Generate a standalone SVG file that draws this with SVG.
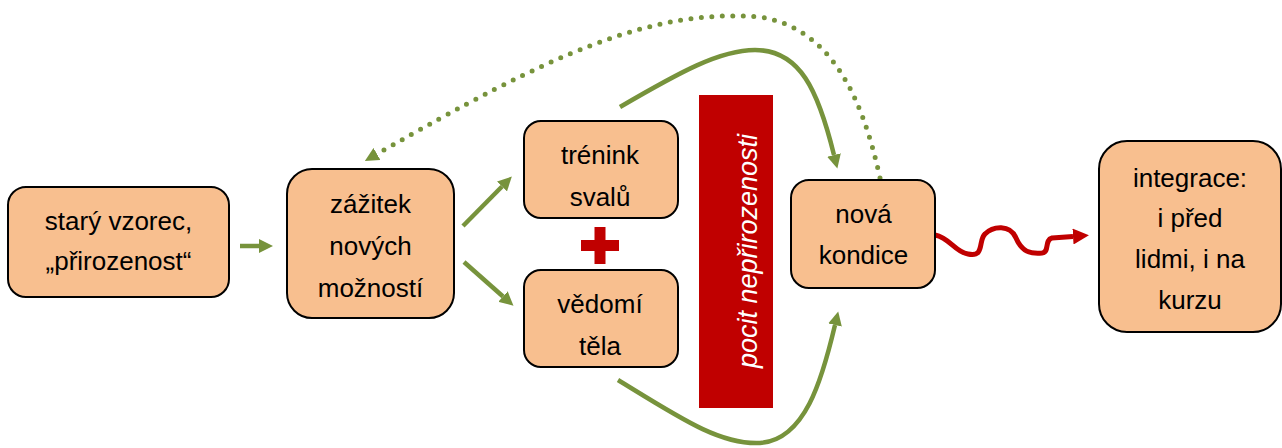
<svg xmlns="http://www.w3.org/2000/svg" width="1282" height="448" viewBox="0 0 1282 448">
  <style>
    .box { fill: #F8BF8F; stroke: #000; stroke-width: 2; }
    .lbl { font-family: "Liberation Sans", Arial, sans-serif; font-size: 26px; fill: #000; text-anchor: middle; }
    .g { fill: none; stroke: #77933C; stroke-width: 4.5; }
    .dot { fill: none; stroke: #77933C; stroke-width: 5; stroke-linecap: round; stroke-dasharray: 0 10.5; }
    .r { fill: none; stroke: #C00000; stroke-width: 5; stroke-linejoin: round; }
  </style>
  <defs>
    <marker id="ga" markerUnits="userSpaceOnUse" markerWidth="14" markerHeight="14" viewBox="0 0 14 14" refX="0" refY="7" orient="auto">
      <path d="M0,0 L14,7 L0,14 Z" fill="#77933C"/>
    </marker>
    <marker id="ra" markerUnits="userSpaceOnUse" markerWidth="16" markerHeight="16" viewBox="0 0 16 16" refX="0" refY="8" orient="auto">
      <path d="M0,0 L16,8 L0,16 Z" fill="#C00000"/>
    </marker>
  </defs>

  <rect id="bar" x="699" y="95" width="74" height="313" fill="#C00000"/>
  <text transform="translate(757,251) rotate(-90)" font-family="Liberation Sans, Arial, sans-serif" font-size="27" font-style="italic" fill="#fff" text-anchor="middle">pocit nepřirozenosti</text>

  <g id="plus" fill="#C00000">
    <rect x="594.5" y="227" width="11" height="37"/>
    <rect x="581" y="240" width="38" height="11"/>
  </g>

  <g id="connectors">
    <path class="g" d="M240,246 L259,246" marker-end="url(#ga)"/>
    <path class="g" d="M463,226 L502,186.5" marker-end="url(#ga)"/>
    <path class="g" d="M464,262 L503,296.5" marker-end="url(#ga)"/>
    <path class="g" d="M620,107 C680,72 720,50 755,50 C800,50 818,90 834,155" marker-end="url(#ga)"/>
    <path class="g" d="M618,380 C680,418 720,445 760,443 C805,440 822,380 835,325" marker-end="url(#ga)"/>
    <path class="dot" d="M880,178 C862,95 830,28 760,17 C650,8 550,55 377,154" marker-end="url(#ga)"/>
    <path class="r" d="M935,235 C950,238 955,252 968,254 C985,258 978,240 985,234 C993,226 1010,224 1016,238 C1022,252 1030,254 1042,253 C1050,252 1044,240 1052,238 L1073,236.5" marker-end="url(#ra)"/>
  </g>

  <g id="n1">
    <rect class="box" x="8" y="187" width="221" height="110" rx="18"/>
    <text class="lbl" x="118.5" y="230">starý vzorec,</text>
    <text class="lbl" x="118.5" y="270">„přirozenost“</text>
  </g>
  <g id="n2">
    <rect class="box" x="287" y="169" width="167" height="149" rx="25"/>
    <text class="lbl" x="370.5" y="213">zážitek</text>
    <text class="lbl" x="370.5" y="255">nových</text>
    <text class="lbl" x="370.5" y="297">možností</text>
  </g>
  <g id="n3">
    <rect class="box" x="524" y="121" width="154" height="97" rx="17"/>
    <text class="lbl" x="600" y="164">trénink</text>
    <text class="lbl" x="600" y="206">svalů</text>
  </g>
  <g id="n4">
    <rect class="box" x="524" y="270" width="154" height="97" rx="17"/>
    <text class="lbl" x="600" y="313">vědomí</text>
    <text class="lbl" x="600" y="355">těla</text>
  </g>
  <g id="n5">
    <rect class="box" x="791" y="180" width="144" height="108" rx="18"/>
    <text class="lbl" x="863.5" y="223">nová</text>
    <text class="lbl" x="863.5" y="264">kondice</text>
  </g>
  <g id="n6">
    <rect class="box" x="1099" y="141" width="182" height="191" rx="28"/>
    <text class="lbl" x="1190" y="187">integrace:</text>
    <text class="lbl" x="1190" y="227">i před</text>
    <text class="lbl" x="1190" y="268">lidmi, i na</text>
    <text class="lbl" x="1190" y="309">kurzu</text>
  </g>
</svg>
